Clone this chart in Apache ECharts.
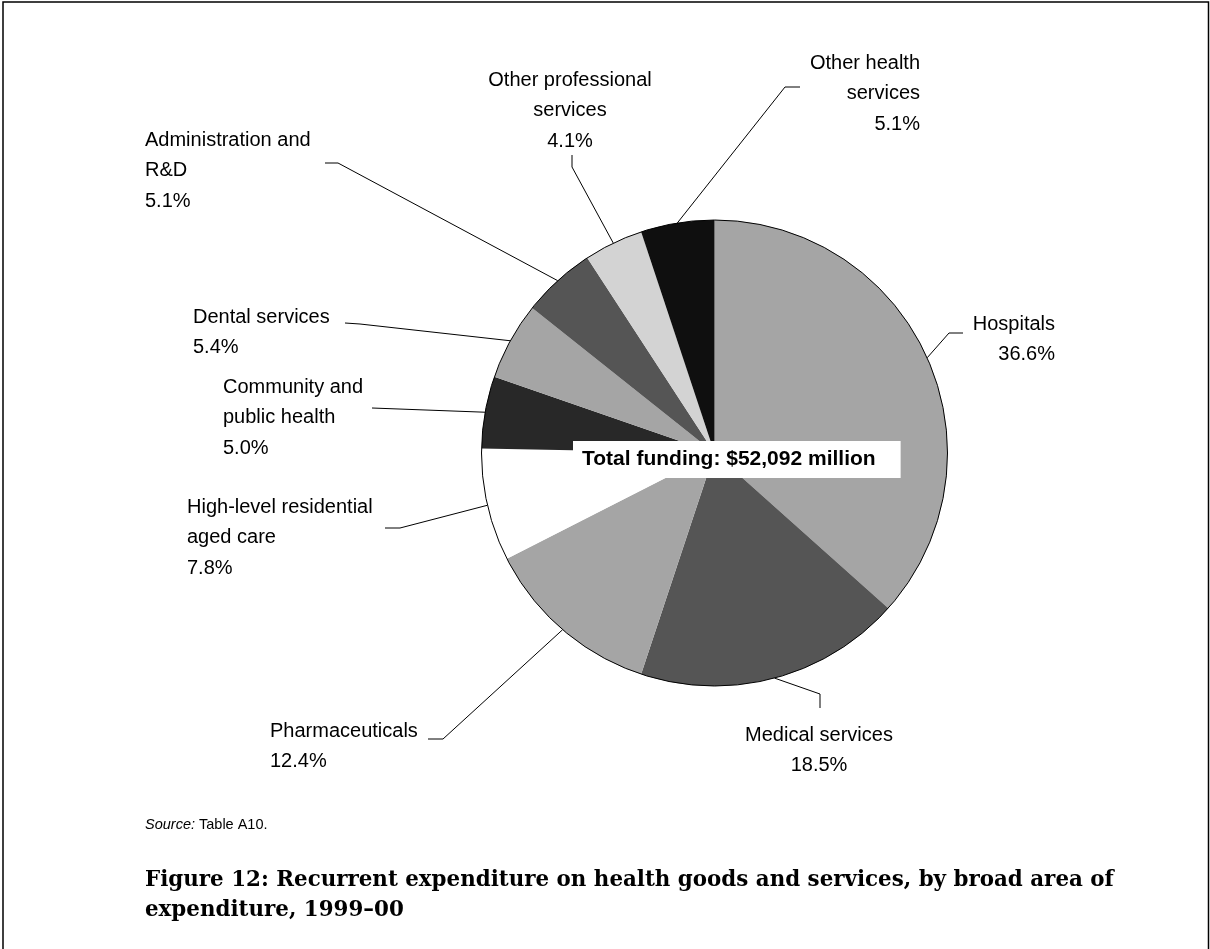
<!DOCTYPE html>
<html>
<head>
<meta charset="utf-8">
<script src="https://cdn.jsdelivr.net/npm/echarts@6/dist/echarts.min.js"></script>
<style>
  html, body { margin: 0; padding: 0; background: #fff; }
  #chart { width: 1210px; height: 949px; }
</style>
</head>
<body>
<div id="chart"></div>
<script>
// ---- data ----
const categories = [
  'Hospitals',
  'Medical services',
  'Pharmaceuticals',
  'High-level residential\naged care',
  'Community and\npublic health',
  'Dental services',
  'Administration and\nR&D',
  'Other professional\nservices',
  'Other health\nservices'
];
const shares = [36.6, 18.5, 12.4, 7.8, 5.0, 5.4, 5.1, 4.1, 5.1];
const sliceColors = ['#a5a5a5', '#555555', '#a5a5a5', '#ffffff', '#282828', '#a5a5a5', '#555555', '#d3d3d3', '#0f0f0f'];
const totalText = 'Total funding: $52,092 million';
const sourceText = 'Table A10.';
const captionText = 'Figure 12: Recurrent expenditure on health goods and services, by broad area of\nexpenditure, 1999\u201300';

// ---- label placement (annotation layout, pixels) ----
const labelSpots = [
  { x: 1055, y: 309, align: 'right',  path: [[949, 333], [963, 333]] },
  { x: 819,  y: 720, align: 'center', path: [[820, 694], [820, 708]] },
  { x: 270,  y: 716, align: 'left',   path: [[443, 739], [428, 739]] },
  { x: 187,  y: 492, align: 'left',   path: [[400, 528], [385, 528]] },
  { x: 223,  y: 372, align: 'left',   path: [[372, 408]] },
  { x: 193,  y: 302, align: 'left',   path: [[360, 324], [345, 323]] },
  { x: 145,  y: 125, align: 'left',   path: [[338, 163], [325, 163]] },
  { x: 570,  y: 65,  align: 'center', path: [[572, 167], [572, 155]] },
  { x: 920,  y: 48,  align: 'right',  path: [[785, 87], [800, 87]] }
];

const chart = echarts.init(document.getElementById('chart'), null, { renderer: 'canvas' });
const sansFont = '"Liberation Sans", Arial, sans-serif';

const option = {
  backgroundColor: '#ffffff',
  animation: false,
  title: [
    {
      text: totalText,
      left: 573, top: 441,
      padding: [8, 25, 8, 9],
      backgroundColor: '#ffffff',
      textStyle: { fontFamily: sansFont, fontWeight: 'bold', fontSize: 21, lineHeight: 21, color: '#000' }
    },
    {
      text: '{i|Source:} ' + sourceText,
      left: 145, top: 817, padding: 0,
      textStyle: {
        fontFamily: sansFont, fontWeight: 'normal', fontSize: 14.5, lineHeight: 16, color: '#000',
        rich: { i: { fontStyle: 'italic', fontFamily: sansFont, fontSize: 14.5, color: '#000' } }
      }
    },
    {
      text: captionText,
      left: 145, top: 865, padding: 0,
      textStyle: { fontFamily: '"DejaVu Serif", serif', fontWeight: 'bold', fontSize: 21.4, lineHeight: 30, color: '#000' }
    }
  ],
  graphic: [
    {
      type: 'rect', silent: true, z: 100,
      shape: { x: 3, y: 2, width: 1205.5, height: 1000 },
      style: { fill: 'none', stroke: '#000', lineWidth: 1.5 }
    }
  ],
  series: [
    {
      type: 'pie',
      center: [714.5, 453],
      radius: 233,
      startAngle: 90,
      clockwise: true,
      avoidLabelOverlap: false,
      itemStyle: { borderWidth: 0 },
      data: categories.map((c, i) => ({ name: c, value: shares[i], itemStyle: { color: sliceColors[i] } })),
      label: {
        show: true,
        position: 'outside',
        formatter: p => p.name + '\n' + p.value.toFixed(1) + '%',
        fontFamily: sansFont,
        fontSize: 20,
        lineHeight: 30.5,
        color: '#000'
      },
      labelLine: {
        show: true,
        length: 20,
        length2: 10,
        smooth: false,
        lineStyle: { color: '#000', width: 1 }
      },
      labelLayout: function (params) {
        const spot = labelSpots[params.dataIndex];
        const start = params.labelLinePoints ? params.labelLinePoints[0] : null;
        const pts = [start].concat(spot.path);
        return {
          x: spot.x,
          y: spot.y,
          align: spot.align,
          verticalAlign: 'top',
          labelLinePoints: pts
        };
      },
      emphasis: { disabled: true },
      z: 2
    },
    {
      type: 'pie',
      center: [714.5, 453],
      radius: 233,
      silent: true,
      label: { show: false },
      labelLine: { show: false },
      itemStyle: { color: 'rgba(0,0,0,0)', borderColor: '#000', borderWidth: 1 },
      data: [{ name: 'outline', value: 1 }],
      emphasis: { disabled: true },
      z: 3
    }
  ]
};
chart.setOption(option);
</script>
</body>
</html>
